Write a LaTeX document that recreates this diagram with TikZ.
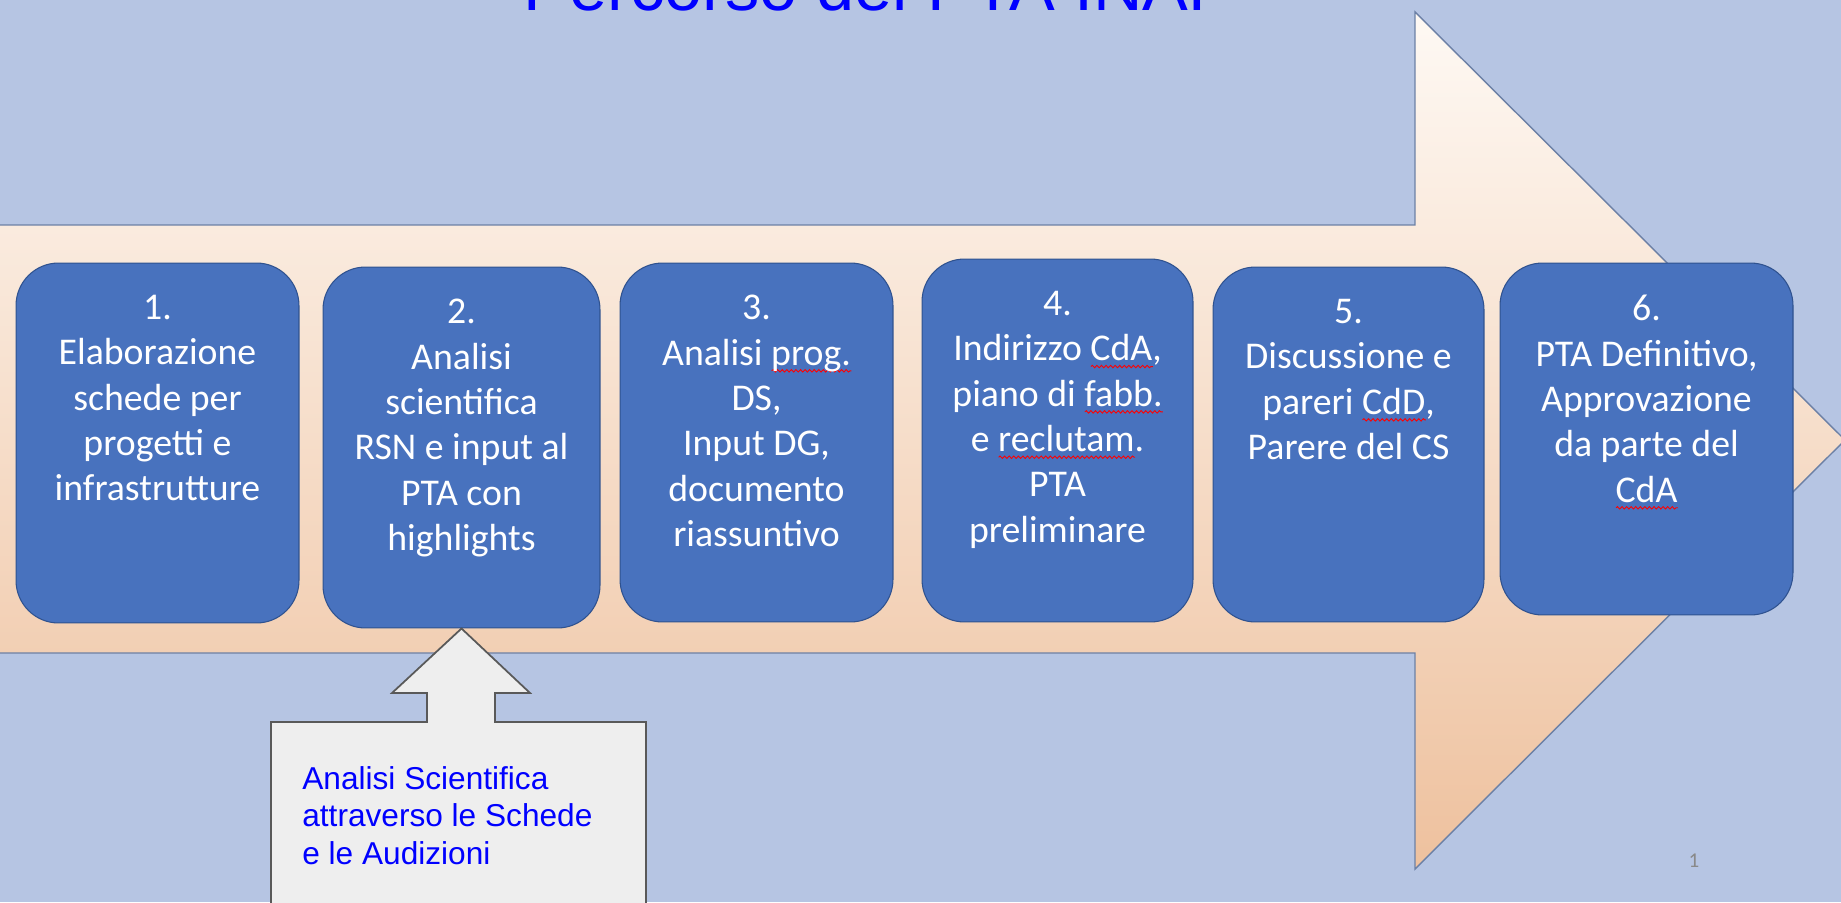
\documentclass[tikz,border=0pt]{standalone}
\usepackage{fontspec}
\setmainfont{Carlito}
\newfontfamily\arialfont{Liberation Sans}
\usepackage{tikz}
\usetikzlibrary{positioning,decorations.pathmorphing}
\definecolor{bgblue}{RGB}{182,197,227}
\definecolor{arrowtop}{RGB}{254,249,244}
\definecolor{arrowbot}{RGB}{238,193,158}
\definecolor{arrowline}{RGB}{108,128,165}
\definecolor{stepfill}{RGB}{72,114,190}
\definecolor{stepline}{RGB}{47,82,143}
\definecolor{notefill}{RGB}{238,238,238}
\definecolor{noteline}{RGB}{89,89,89}
\definecolor{numgray}{RGB}{137,137,137}
\newsavebox\spellbox
\newcommand\spellerr[1]{\sbox\spellbox{#1}\rlap{\tikz[baseline=0pt, x=1pt, y=1pt]\draw[red, line width=0.5pt, decorate, decoration={snake, amplitude=0.7pt, segment length=2.6pt}] (0,-3.2) -- (\wd\spellbox,-3.2);}\usebox\spellbox}

\begin{document}
\begin{tikzpicture}[x=0.02cm, y=-0.02cm,
  stepbox/.style={draw=stepline, line width=0.6pt, fill=stepfill, rounded corners=0.85cm},
  steptext/.style={text=white, align=center, inner sep=0pt, font=\fontsize{21.5}{25.8}\selectfont},
  notetext/.style={text=blue, align=left, inner sep=0pt, font=\arialfont\fontsize{18}{21.3}\selectfont}]
%\draw [help lines] grid (1841,902);
\clip (0,0) rectangle (1841,902);
\fill[bgblue] (0,0) rectangle (1841,902);

\node[anchor=base, text=blue, font=\arialfont\fontsize{39}{46}\selectfont] (T) at (877,11) {Percorso del PTA INAF};

\path[draw=arrowline, line width=0.8pt, top color=arrowtop, bottom color=arrowbot]
  (-10,225) -- (1415,225) -- (1415,12) -- (1845,440) -- (1415,869) -- (1415,653) -- (-10,653) -- cycle;

\node[stepbox, minimum width=5.66cm, minimum height=7.2cm] (A) at (157.5,443) {};
\node[stepbox, minimum width=5.54cm, minimum height=7.22cm] (B) at (461.5,447.5) {};
\node[stepbox, minimum width=5.46cm, minimum height=7.18cm] (C) at (756.5,442.5) {};
\node[stepbox, minimum width=5.42cm, minimum height=7.26cm] (D) at (1057.5,440.5) {};
\node[stepbox, minimum width=5.42cm, minimum height=7.1cm] (E) at (1348.5,444.5) {};
\node[stepbox, minimum width=5.86cm, minimum height=7.04cm] (F) at (1646.5,439) {};

\node[steptext, below=0.65cm of A.north] (a) {1.\\Elaborazione\\schede per\\progetti e\\infrastrutture};
\node[steptext, below=0.65cm of B.north] (b) {2.\\Analisi\\scientifica\\RSN e input al\\PTA con\\highlights};
\node[steptext, below=0.65cm of C.north] (c) {3.\\Analisi \spellerr{prog.}\\DS,\\Input DG,\\documento\\riassuntivo};
\node[steptext, below=0.65cm of D.north] (d) {4.\\Indirizzo \spellerr{CdA},\\piano di \spellerr{fabb.}\\e \spellerr{reclutam}.\\PTA\\preliminare};
\node[steptext, below=0.65cm of E.north] (e) {5.\\Discussione e\\pareri \spellerr{CdD},\\Parere del CS};
\node[steptext, below=0.65cm of F.north] (f) {6.\\PTA Definitivo,\\Approvazione\\da parte del\\\spellerr{CdA}};

\path[draw=noteline, fill=notefill, line width=1pt]
  (B.south) -- (530,693) -- (495,693) -- (495,722) -- (646,722) -- (646,910)
  -- (271,910) -- (271,722) -- (427,722) -- (427,693) -- (392,693) -- cycle;
\node[notetext, anchor=north west] (G) at (302,766) {Analisi Scientifica\\attraverso le Schede\\e le Audizioni};

\node[text=numgray, font=\fontsize{12}{14}\selectfont] (N) at (1694,861) {1};

\end{tikzpicture}
\end{document}
